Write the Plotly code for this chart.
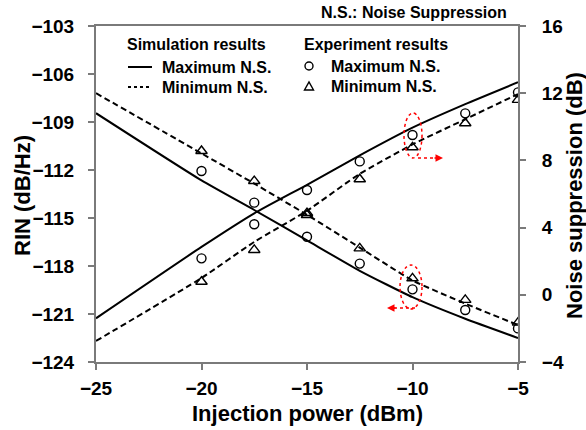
import plotly.graph_objects as go

# ---------------- data ----------------
sim_x = [-25, -20, -17.5, -15, -12.5, -10, -7.5, -5]
rin_sim_max = [-108.45, -112.65, -114.5, -116.4, -118.3, -119.95, -121.3, -122.5]
rin_sim_min = [-107.2, -110.96, -112.85, -114.8, -116.85, -118.9, -120.35, -121.69]
ns_sim_max = [-1.4, 2.85, 4.85, 6.55, 8.3, 9.95, 11.35, 12.65]
ns_sim_min = [-2.75, 1.0, 3.15, 5.0, 7.2, 8.95, 10.45, 11.95]

exp_x = [-20, -17.5, -15, -12.5, -10, -7.5, -5]
rin_exp_max = [-112.06, -114.04, -116.17, -117.85, -119.46, -120.75, -121.9]
rin_exp_min = [-110.81, -112.69, -114.69, -116.9, -118.77, -120.12, -121.54]
ns_exp_max = [2.17, 4.2, 6.24, 7.94, 9.51, 10.8, 12.05]
ns_exp_min = [0.78, 2.67, 4.75, 6.88, 8.78, 10.21, 11.6]

x_ticks = [-25, -20, -15, -10, -5]
rin_ticks = [-124, -121, -118, -115, -112, -109, -106, -103]
ns_ticks = [-4, 0, 4, 8, 12, 16]

# ---------------- layout geometry ----------------
W, H = 586, 430
L, R, T, B = 96, 518, 26, 362
FONT = "Liberation Sans, Arial, sans-serif"


def px(x):
    return (x - L) / (R - L)


def py(y):
    return (B - y) / (B - T)


fig = go.Figure()

dash = "6px,3.5px"
sm = 0.5
fig.add_trace(go.Scatter(x=sim_x, y=rin_sim_max, mode="lines", yaxis="y",
                         line=dict(color="black", width=2, shape="spline", smoothing=sm)))
fig.add_trace(go.Scatter(x=sim_x, y=rin_sim_min, mode="lines", yaxis="y",
                         line=dict(color="black", width=2, dash=dash, shape="spline", smoothing=sm)))
fig.add_trace(go.Scatter(x=sim_x, y=ns_sim_max, mode="lines", yaxis="y2",
                         line=dict(color="black", width=2, shape="spline", smoothing=sm)))
fig.add_trace(go.Scatter(x=sim_x, y=ns_sim_min, mode="lines", yaxis="y2",
                         line=dict(color="black", width=2, dash=dash, shape="spline", smoothing=sm)))

circ = dict(symbol="circle-open", size=9, color="black", line=dict(width=1.4, color="black"))
tri = dict(symbol="triangle-up-open", size=10, color="black", line=dict(width=1.4, color="black"))
fig.add_trace(go.Scatter(x=exp_x, y=rin_exp_max, mode="markers", yaxis="y", marker=circ))
fig.add_trace(go.Scatter(x=exp_x, y=rin_exp_min, mode="markers", yaxis="y", marker=tri))
fig.add_trace(go.Scatter(x=exp_x, y=ns_exp_max, mode="markers", yaxis="y2", marker=circ))
fig.add_trace(go.Scatter(x=exp_x, y=ns_exp_min, mode="markers", yaxis="y2", marker=tri))

axis_col = "#7a7a7a"
tickfont = dict(family=FONT, size=19, color="black", weight="bold")

fig.update_layout(
    width=W, height=H,
    margin=dict(l=L, r=W - R, t=T, b=H - B),
    paper_bgcolor="white", plot_bgcolor="white",
    showlegend=False,
    xaxis=dict(range=[-25, -5], tickvals=x_ticks, showgrid=False, zeroline=False,
               showline=True, linecolor=axis_col, linewidth=2, mirror=True,
               ticks="outside", ticklen=6, tickwidth=2, tickcolor=axis_col,
               tickfont=tickfont, ticklabelstandoff=2),
    yaxis=dict(range=[-124, -103], tickvals=rin_ticks, showgrid=False, zeroline=False,
               showline=True, linecolor=axis_col, linewidth=2,
               ticks="outside", ticklen=6, tickwidth=2, tickcolor=axis_col,
               tickfont=tickfont, ticklabelstandoff=10),
    yaxis2=dict(range=[-4, 16], tickvals=ns_ticks, overlaying="y", side="right",
                showgrid=False, zeroline=False,
                showline=True, linecolor=axis_col, linewidth=2,
                ticks="outside", ticklen=6, tickwidth=2, tickcolor=axis_col,
                tickfont=tickfont, ticklabelstandoff=12),
)

ann = []


def text(xp, yp, s, size=16, anchor="left", angle=0):
    ann.append(dict(x=px(xp), y=py(yp), xref="paper", yref="paper", text=s,
                    showarrow=False, xanchor=anchor, yanchor="middle", textangle=angle,
                    font=dict(family=FONT, size=size, color="black", weight="bold")))


# axis titles
text(307, 414, "Injection power (dBm)", size=22, anchor="center")
text(22, 196, "RIN (dB/Hz)", size=22, anchor="center", angle=-90)
text(574, 196, "Noise suppression (dB)", size=22, anchor="center", angle=-90)

# legend text
text(414, 13, "N.S.: Noise Suppression", size=16, anchor="center")
text(125, 44, "Simulation results")
text(160, 67, "Maximum N.S.")
text(160, 87, "Minimum N.S.")
text(302, 44, "Experiment results")
text(329, 66, "Maximum N.S.")
text(329, 86, "Minimum N.S.")

# arrowheads for red markers
ann.append(dict(x=px(443), y=py(158), xref="paper", yref="paper", ax=-10, ay=0,
                axref="pixel", ayref="pixel", text="", showarrow=True,
                arrowhead=2, arrowsize=1, arrowwidth=1.5, arrowcolor="red"))
ann.append(dict(x=px(387), y=py(308), xref="paper", yref="paper", ax=10, ay=0,
                axref="pixel", ayref="pixel", text="", showarrow=True,
                arrowhead=2, arrowsize=1, arrowwidth=1.5, arrowcolor="red"))

shapes = []
# legend samples
shapes.append(dict(type="line", xref="paper", yref="paper", x0=px(128), x1=px(152),
                   y0=py(67), y1=py(67), line=dict(color="black", width=2)))
shapes.append(dict(type="line", xref="paper", yref="paper", x0=px(128), x1=px(151),
                   y0=py(87), y1=py(87), line=dict(color="black", width=2, dash="dot")))
shapes.append(dict(type="circle", xref="paper", yref="paper", x0=px(305), x1=px(313),
                   y0=py(62), y1=py(70), line=dict(color="black", width=1.4)))
shapes.append(dict(type="path", xref="paper", yref="paper",
                   path="M {},{} L {},{} L {},{} Z".format(px(304.5), py(90), px(313.5), py(90), px(309), py(82)),
                   line=dict(color="black", width=1.4)))
# red dotted ellipses and arrow shafts
shapes.append(dict(type="circle", xref="paper", yref="paper", x0=px(404), x1=px(422),
                   y0=py(158), y1=py(113), line=dict(color="red", width=1.5, dash="dot")))
shapes.append(dict(type="line", xref="paper", yref="paper", x0=px(418), x1=px(436),
                   y0=py(158), y1=py(158), line=dict(color="red", width=1.5, dash="dot")))
shapes.append(dict(type="circle", xref="paper", yref="paper", x0=px(400), x1=px(422),
                   y0=py(309), y1=py(265), line=dict(color="red", width=1.5, dash="dot")))
shapes.append(dict(type="line", xref="paper", yref="paper", x0=px(394), x1=px(416),
                   y0=py(308), y1=py(308), line=dict(color="red", width=1.5, dash="dot")))

fig.update_layout(annotations=ann, shapes=shapes)
fig.write_html("out.html", config={"displayModeBar": False},
               post_script="document.body.style.margin='0';document.body.style.overflow='hidden';")
